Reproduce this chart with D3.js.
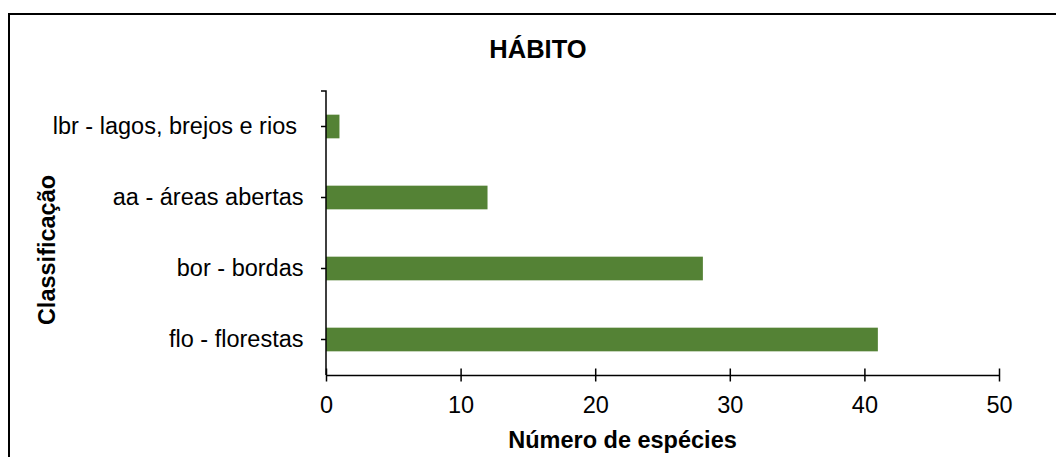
<!DOCTYPE html>
<html>
  <head>
    <meta charset="utf-8">
    <title>Hábito</title>
    <style>
      body { margin: 0; background: #fff; }
      svg { display: block; font-family: Arial, "Liberation Sans", sans-serif; }
      .axis path, .axis line { stroke: #000; stroke-width: 1.5; }
      .axis text { font-size: 23.5px; fill: #000; white-space: pre; }
      .title { font-size: 25.5px; font-weight: bold; }
      .axis-title { font-size: 23.5px; font-weight: bold; }
    </style>
  </head>
  <body>
    <div id="chart"></div>
    <script src="https://cdn.jsdelivr.net/npm/d3@7"></script>
    <script>
      // data (first label keeps its trailing space)
      var categories = ['lbr - lagos, brejos e rios ', 'aa - áreas abertas', 'bor - bordas', 'flo - florestas'];
      var species = [1, 12, 28, 41];
      var xTicks = [0, 10, 20, 30, 40, 50];
      var chartTitle = 'HÁBITO';
      var xTitle = 'Número de espécies';
      var yTitle = 'Classificação';

      (function(d3) {
        'use strict';

        var width = 1056;
        var height = 457;
        var plotLeft = 326, plotRight = 999, plotTop = 91, plotBottom = 375;

        var svg = d3.select('#chart')
          .append('svg')
          .attr('width', width)
          .attr('height', height);

        // outer frame (runs off the right and bottom edge)
        svg.append('rect')
          .attr('x', 9)
          .attr('y', 14)
          .attr('width', 1100)
          .attr('height', 500)
          .attr('fill', 'none')
          .attr('stroke', '#000')
          .attr('stroke-width', 2);

        var x = d3.scaleLinear().domain([0, 50]).range([plotLeft, plotRight]);
        var y = d3.scaleBand().domain(categories).range([plotTop, plotBottom])
          .paddingInner(2 / 3).paddingOuter(1 / 3);
        var yCat = d3.scaleBand().domain(categories).range([plotTop, plotBottom]);

        var rows = categories.map(function(c, i) { return { label: c, value: species[i] }; });

        svg.selectAll('.bar')
          .data(rows)
          .enter()
          .append('rect')
          .attr('class', 'bar')
          .attr('x', x(0))
          .attr('y', function(d) { return y(d.label); })
          .attr('width', function(d) { return x(d.value) - x(0); })
          .attr('height', y.bandwidth())
          .attr('fill', '#548235');

        // y axis: ticks on the categories, small tick at the top end
        var yAxis = svg.append('g')
          .attr('class', 'axis')
          .attr('transform', 'translate(' + plotLeft + ',0)')
          .call(d3.axisLeft(yCat).tickSize(5).tickPadding(17.5));
        yAxis.select('.domain').attr('d', 'M-5,' + plotTop + 'H0V' + plotBottom);

        // x axis: ticks cross the line
        var xAxis = svg.append('g')
          .attr('class', 'axis')
          .attr('transform', 'translate(0,' + plotBottom + ')')
          .call(d3.axisBottom(x).tickValues(xTicks).tickSizeOuter(0));
        xAxis.selectAll('.tick line').attr('y1', -6.5).attr('y2', 6.5);
        xAxis.selectAll('.tick text').attr('y', 38).attr('dy', 0);

        svg.append('text')
          .attr('class', 'title')
          .attr('x', 538)
          .attr('y', 58)
          .attr('text-anchor', 'middle')
          .text(chartTitle);

        svg.append('text')
          .attr('class', 'axis-title')
          .attr('x', 622.5)
          .attr('y', 448)
          .attr('text-anchor', 'middle')
          .text(xTitle);

        svg.append('text')
          .attr('class', 'axis-title')
          .attr('transform', 'translate(55,250) rotate(-90)')
          .attr('text-anchor', 'middle')
          .text(yTitle);
      })(window.d3);
    </script>
  </body>
</html>
